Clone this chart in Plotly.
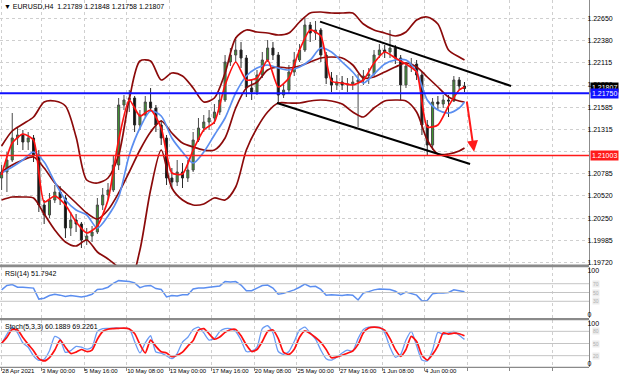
import plotly.graph_objects as go
from plotly.subplots import make_subplots

FONT = "Liberation Sans, Arial, sans-serif"

# ---------------- data ----------------
symbol_title = "\u25bc EURUSD,H4  1.21789 1.21848 1.21758 1.21807"
rsi_title = "RSI(14) 51.7942"
stoch_title = "Stoch(5,3,3) 60.1889 69.2261"

# candle positions in H4-bar units (0 = 3 May 00:00); each candle = 2 bars
candle_bars = list(range(-15, 160, 2))

opens = [1.20734, 1.20806, 1.20950, 1.21214, 1.21250, 1.21166, 1.21214, 1.21010, 1.20410, 1.20290,
         1.20470, 1.20566, 1.20494, 1.20134, 1.20230, 1.20182, 1.19990, 1.20038, 1.20086, 1.20410,
         1.20530, 1.20590, 1.20890, 1.21610, 1.21670, 1.21694, 1.21370, 1.21490, 1.21646, 1.21574,
         1.21370, 1.21214, 1.20734, 1.20686, 1.20806, 1.20734, 1.20830, 1.21190, 1.21334, 1.21406,
         1.21454, 1.21526, 1.21670, 1.22126, 1.22210, 1.22270, 1.22174, 1.21814, 1.21766, 1.21970,
         1.22150, 1.22294, 1.22210, 1.21730, 1.21790, 1.22006, 1.22150, 1.22270, 1.22570, 1.22474,
         1.22510, 1.22210, 1.21934, 1.21850, 1.21886, 1.21850, 1.21862, 1.21886, 1.21910, 1.21958,
         1.21982, 1.22210, 1.22270, 1.22246, 1.22294, 1.22174, 1.21850, 1.22078, 1.22102, 1.21970,
         1.21370, 1.21130, 1.21646, 1.21622, 1.21670, 1.21658, 1.21910, 1.21838]
highs = [1.20890, 1.21046, 1.21514, 1.21346, 1.21310, 1.21286, 1.21250, 1.21070, 1.20470, 1.20554,
         1.20650, 1.20638, 1.20530, 1.20326, 1.20302, 1.20206, 1.20134, 1.20158, 1.20494, 1.20614,
         1.20674, 1.21010, 1.21694, 1.21730, 1.21790, 1.21718, 1.21550, 1.21718, 1.21814, 1.21610,
         1.21430, 1.21250, 1.20854, 1.20950, 1.20914, 1.20950, 1.21286, 1.21454, 1.21490, 1.21550,
         1.21622, 1.21766, 1.22210, 1.22294, 1.22426, 1.22366, 1.22210, 1.21910, 1.22030, 1.22246,
         1.22390, 1.22366, 1.22246, 1.21862, 1.22090, 1.22246, 1.22342, 1.22654, 1.22606, 1.22618,
         1.22534, 1.22246, 1.22006, 1.21970, 1.21958, 1.21934, 1.21958, 1.21982, 1.22030, 1.22054,
         1.22270, 1.22342, 1.22330, 1.22510, 1.22330, 1.22210, 1.22126, 1.22174, 1.22150, 1.22006,
         1.21430, 1.21694, 1.21718, 1.21730, 1.21730, 1.21958, 1.21946, 1.21886]
lows = [1.20590, 1.20566, 1.20926, 1.21130, 1.21070, 1.21070, 1.20926, 1.20326, 1.20182, 1.20254,
        1.20434, 1.20410, 1.20014, 1.20038, 1.20086, 1.19894, 1.19930, 1.19966, 1.20062, 1.20350,
        1.20470, 1.20566, 1.20830, 1.21550, 1.21526, 1.21286, 1.21310, 1.21454, 1.21526, 1.21286,
        1.21130, 1.20650, 1.20614, 1.20638, 1.20614, 1.20686, 1.20806, 1.21166, 1.21286, 1.21310,
        1.21382, 1.21490, 1.21646, 1.22078, 1.22126, 1.22054, 1.21706, 1.21670, 1.21730, 1.21934,
        1.22126, 1.22150, 1.21622, 1.21694, 1.21754, 1.21958, 1.22126, 1.22246, 1.22366, 1.22390,
        1.22126, 1.21862, 1.21766, 1.21790, 1.21790, 1.21766, 1.21790, 1.21346, 1.21850, 1.21862,
        1.21958, 1.22174, 1.22174, 1.22174, 1.22102, 1.21670, 1.21814, 1.22006, 1.21910, 1.21250,
        1.21003, 1.21070, 1.21550, 1.21574, 1.21466, 1.21646, 1.21790, 1.21766]
closes = [1.20806, 1.20950, 1.21214, 1.21250, 1.21166, 1.21214, 1.21010, 1.20410, 1.20290, 1.20470,
          1.20566, 1.20494, 1.20134, 1.20230, 1.20182, 1.19990, 1.20038, 1.20086, 1.20410, 1.20530,
          1.20590, 1.20890, 1.21610, 1.21670, 1.21694, 1.21370, 1.21490, 1.21646, 1.21574, 1.21370,
          1.21214, 1.20734, 1.20686, 1.20806, 1.20734, 1.20830, 1.21190, 1.21334, 1.21406, 1.21454,
          1.21526, 1.21670, 1.22126, 1.22210, 1.22270, 1.22174, 1.21814, 1.21766, 1.21970, 1.22150,
          1.22294, 1.22210, 1.21730, 1.21790, 1.22006, 1.22150, 1.22270, 1.22570, 1.22474, 1.22510,
          1.22210, 1.21934, 1.21850, 1.21886, 1.21850, 1.21862, 1.21886, 1.21910, 1.21958, 1.21982,
          1.22210, 1.22270, 1.22246, 1.22294, 1.22174, 1.21850, 1.22078, 1.22102, 1.21970, 1.21370,
          1.21130, 1.21646, 1.21622, 1.21670, 1.21658, 1.21910, 1.21838, 1.21807]

# indicator lines sampled every 4 bars (plus last bar)
ind_bars = list(range(-15, 158, 4)) + [159]
bb_upper = [1.21118, 1.21298, 1.21382, 1.21466, 1.21646, 1.21658, 1.21598, 1.21226, 1.20710, 1.20674,
            1.20734, 1.21010, 1.21682, 1.22138, 1.22138, 1.21910, 1.21994, 1.21958, 1.21814, 1.21646,
            1.21694, 1.21994, 1.22414, 1.22510, 1.22486, 1.22474, 1.22450, 1.22474, 1.22606, 1.22714,
            1.22726, 1.22714, 1.22714, 1.22714, 1.22582, 1.22510, 1.22474, 1.22438, 1.22486, 1.22630,
            1.22666, 1.22582, 1.22270, 1.22186, 1.22150]
bb_middle = [1.20806, 1.20890, 1.20950, 1.20986, 1.20854, 1.20674, 1.20554, 1.20434, 1.20314, 1.20242,
             1.20350, 1.20554, 1.20806, 1.21070, 1.21286, 1.21418, 1.21274, 1.21154, 1.21106, 1.21070,
             1.21070, 1.21214, 1.21574, 1.21814, 1.21886, 1.22030, 1.22066, 1.22054, 1.22078, 1.22126,
             1.22174, 1.22186, 1.22174, 1.22090, 1.21934, 1.21946, 1.22006, 1.22066, 1.22114, 1.22066,
             1.21946, 1.21826, 1.21706, 1.21658, 1.21646]
bb_lower = [1.20470, 1.20506, 1.20506, 1.20494, 1.20302, 1.20110, 1.19966, 1.19918, 1.19990, 1.19846,
            1.19762, 1.19654, 1.19450, 1.19870, 1.20590, 1.21070, 1.20614, 1.20470, 1.20410, 1.20422,
            1.20494, 1.20470, 1.20626, 1.21070, 1.21334, 1.21526, 1.21634, 1.21634, 1.21634, 1.21658,
            1.21670, 1.21658, 1.21622, 1.21526, 1.21466, 1.21574, 1.21658, 1.21670, 1.21658, 1.21526,
            1.21190, 1.21022, 1.21022, 1.21058, 1.21094]
ma_blue = [1.20794, 1.20866, 1.20950, 1.21046, 1.20926, 1.20686, 1.20470, 1.20350, 1.20290, 1.20134,
           1.20278, 1.20506, 1.21010, 1.21334, 1.21538, 1.21478, 1.21214, 1.21046, 1.20914, 1.21046,
           1.21250, 1.21454, 1.21754, 1.21958, 1.22054, 1.22090, 1.22054, 1.22030, 1.22066, 1.22150,
           1.22294, 1.22246, 1.22126, 1.22006, 1.21874, 1.21982, 1.22102, 1.22150, 1.22150, 1.22006,
           1.21670, 1.21550, 1.21514, 1.21574, 1.21646]
ma_red = [1.20770, 1.21154, 1.21262, 1.21190, 1.20446, 1.20518, 1.20410, 1.20206, 1.20074, 1.20158,
          1.20470, 1.21190, 1.21670, 1.21478, 1.21550, 1.21334, 1.20794, 1.20782, 1.21070, 1.21310,
          1.21406, 1.21850, 1.22126, 1.21910, 1.21934, 1.22150, 1.21826, 1.21934, 1.22270, 1.22510,
          1.22438, 1.21898, 1.21874, 1.21850, 1.21910, 1.22114, 1.22246, 1.22174, 1.22102, 1.22006,
          1.21346, 1.21370, 1.21598, 1.21790, 1.21826]

rsi_values = [56, 66, 68, 62, 62, 61, 60, 35, 37, 43,
              46, 44, 41, 43, 41, 40, 42, 46, 57, 58,
              62, 71, 77, 76, 75, 72, 61, 65, 66, 59,
              57, 40, 43, 42, 45, 45, 58, 60, 60, 62,
              63, 65, 75, 74, 75, 67, 54, 54, 60, 66,
              67, 60, 46, 48, 52, 56, 62, 69, 63, 64,
              57, 44, 45, 44, 43, 45, 44, 33, 49, 52,
              56, 58, 57, 57, 53, 45, 51, 48, 44, 31,
              32, 47, 49, 49, 50, 56, 54, 51.7942]
stoch_main = [49.3, 72.6, 90.2, 76.1, 51.4, 40.8, 19.6, 8.3, 11.2, 32.3,
              67.7, 60.6, 28.1, 32.3, 42.9, 40.8, 35.9, 40.8, 79.7, 86.7,
              87.4, 88.1, 88.1, 87.4, 86.7, 54.9, 26.7, 51.4, 69.1, 28.8,
              26.0, 19.6, 12.6, 25.3, 53.5, 65.5, 84.6, 90.2, 76.1, 58.5,
              62.0, 79.7, 86.7, 86.7, 79.7, 58.5, 30.2, 31.6, 40.8, 86.7,
              93.8, 76.1, 30.2, 23.2, 30.2, 54.9, 83.2, 90.2, 76.1, 60.6,
              33.8, 12.6, 9.1, 16.1, 26.7, 33.8, 31.6, 62.0, 84.6, 90.2,
              90.2, 90.2, 76.1, 40.8, 16.1, 23.2, 58.5, 79.7, 44.4, 9.1,
              6.9, 33.8, 77.5, 72.6, 76.1, 79.7, 70.5, 60.1889]
stoch_signal = [50.7, 65.5, 84.6, 83.2, 64.8, 47.9, 32.3, 12.6, 6.9, 15.4,
                33.8, 58.5, 40.8, 25.3, 28.8, 35.2, 30.2, 33.8, 60.6, 79.7,
                85.3, 86.7, 87.4, 88.1, 86.0, 74.7, 47.9, 26.7, 58.5, 42.9,
                29.5, 26.7, 17.5, 21.1, 28.8, 43.6, 57.1, 83.2, 86.7, 74.0,
                60.6, 66.2, 77.5, 83.9, 84.6, 69.1, 46.5, 30.2, 35.2, 54.9,
                79.7, 83.2, 62.0, 28.1, 23.2, 35.9, 65.5, 81.1, 74.7, 64.8,
                52.8, 35.2, 14.7, 16.8, 21.1, 26.0, 31.6, 47.9, 76.8, 88.1,
                90.2, 88.8, 83.2, 62.0, 35.2, 18.2, 35.2, 67.7, 54.9, 21.1,
                9.1, 23.2, 44.4, 76.1, 73.3, 75.4, 74.0, 69.2261]

rsi_levels = [70, 50, 30]
stoch_levels = [80, 50, 20]

resistance_level = 1.21750
support_level = 1.21003
last_price = 1.21807

channel_upper_bars = [104.7, 176.5]
channel_upper_prices = [1.22610, 1.21838]
channel_lower_bars = [88.5, 161.1]
channel_lower_prices = [1.21634, 1.20902]

arrow_bars = [159.8, 162.6]
arrow_prices = [1.21670, 1.21050]

price_ticks = [1.19720, 1.19985, 1.20250, 1.20520, 1.20785, 1.21050,
               1.21315, 1.21585, 1.21850, 1.22115, 1.22380, 1.22650]
hidden_price_ticks = [1.21050]  # covered by the support-level price box
time_tick_bars = [-15, 0, 16, 32, 48, 64, 80, 96, 112, 128, 144, 160, 176, 192]
time_tick_labels = ["28 Apr 2021", "3 May 00:00", "5 May 16:00", "10 May 08:00", "13 May 00:00",
                    "17 May 16:00", "20 May 08:00", "25 May 00:00", "27 May 16:00", "1 Jun 08:00",
                    "4 Jun 00:00", "", "", ""]

# ---------------- figure ----------------
fig = make_subplots(rows=3, cols=1, shared_xaxes=True, vertical_spacing=0)

fig.add_trace(go.Candlestick(
    x=candle_bars, open=opens, high=highs, low=lows, close=closes,
    increasing=dict(line=dict(color="#4a4a4a", width=1), fillcolor="#3f9a30"),
    decreasing=dict(line=dict(color="#2a2a2a", width=1), fillcolor="#111111"),
    whiskerwidth=0, showlegend=False, hoverinfo="skip"), row=1, col=1)

band_style = dict(color="#8b0a0a", width=1.7, shape="spline", smoothing=0.8)
for series in (bb_upper, bb_middle, bb_lower):
    fig.add_trace(go.Scatter(x=ind_bars, y=series, mode="lines", line=band_style,
                             showlegend=False, hoverinfo="skip"), row=1, col=1)
fig.add_trace(go.Scatter(x=ind_bars, y=ma_blue, mode="lines",
                         line=dict(color="#5b8ef0", width=1.7, shape="spline", smoothing=0.8),
                         showlegend=False, hoverinfo="skip"), row=1, col=1)
fig.add_trace(go.Scatter(x=ind_bars, y=ma_red, mode="lines",
                         line=dict(color="#ff1010", width=1.7, shape="spline", smoothing=0.6),
                         showlegend=False, hoverinfo="skip"), row=1, col=1)

fig.add_hline(y=resistance_level, line=dict(color="#1010ff", width=2), row=1, col=1)
fig.add_hline(y=support_level, line=dict(color="#ff1a1a", width=1.5), row=1, col=1)

for bx, pyv in ((channel_upper_bars, channel_upper_prices), (channel_lower_bars, channel_lower_prices)):
    fig.add_trace(go.Scatter(x=bx, y=pyv, mode="lines", line=dict(color="#000000", width=2),
                             showlegend=False, hoverinfo="skip"), row=1, col=1)

fig.add_annotation(x=arrow_bars[1], y=arrow_prices[1], ax=arrow_bars[0], ay=arrow_prices[0],
                   xref="x", yref="y", axref="x", ayref="y", showarrow=True, text="",
                   arrowhead=2, arrowsize=1.1, arrowwidth=2, arrowcolor="#ff1a1a")

# RSI
fig.add_trace(go.Scatter(x=candle_bars, y=rsi_values, mode="lines",
                         line=dict(color="#5b8ef0", width=1.5),
                         showlegend=False, hoverinfo="skip"), row=2, col=1)
for lv in rsi_levels:
    fig.add_hline(y=lv, line=dict(color="#c4c4c4", width=1), row=2, col=1)

# Stochastic
fig.add_trace(go.Scatter(x=candle_bars, y=stoch_main, mode="lines",
                         line=dict(color="#6a9bf4", width=1.3, shape="spline", smoothing=0.6),
                         showlegend=False, hoverinfo="skip"), row=3, col=1)
fig.add_trace(go.Scatter(x=candle_bars, y=stoch_signal, mode="lines",
                         line=dict(color="#ff1010", width=1.7, shape="spline", smoothing=0.6),
                         showlegend=False, hoverinfo="skip"), row=3, col=1)
for lv in stoch_levels:
    fig.add_hline(y=lv, line=dict(color="#c4c4c4", width=1), row=3, col=1)

# ---------------- layout ----------------
H = 368.0
def py(px):
    return 1 - px / H

grid = dict(showgrid=True, gridcolor="#cfcfcf", griddash="dot", gridwidth=1)
fig.update_xaxes(range=[-15.6, 205.8], tickvals=time_tick_bars, ticktext=time_tick_labels,
                 zeroline=False, rangeslider_visible=False, showline=False, automargin=False,
                 tickangle=0, **grid)
fig.update_xaxes(showticklabels=True, ticklabelposition="outside right",
                 tickfont=dict(family=FONT, size=6, color="#000"), ticks="outside",
                 ticklen=3, tickcolor="#888", ticklabelstandoff=-2, row=3, col=1)

axis_common = dict(side="right", zeroline=False, showline=True, linecolor="#8c8c8c", linewidth=1,
                   ticks="", automargin=False, ticklabelstandoff=-4,
                   tickfont=dict(family=FONT, size=7, color="#000"))
fig.update_layout(
    yaxis=dict(domain=[py(265), 1], range=[1.1969, 1.2287], tickvals=price_ticks,
               ticktext=["" if v in hidden_price_ticks else f"{v:.5f}" for v in price_ticks],
               **grid, **axis_common),
    yaxis2=dict(domain=[py(318), py(267)], range=[-8, 108], tickvals=[0, 100],
                showgrid=False, **axis_common),
    yaxis3=dict(domain=[py(367), py(320)], range=[-8, 108], tickvals=[0, 100],
                showgrid=False, **axis_common),
)

shapes = []
for y0, y1 in ((264.5, 267.2), (318, 320.3), (366.8, 368)):
    shapes.append(dict(type="rect", xref="paper", yref="paper", x0=0, x1=1, y0=py(y1), y1=py(y0),
                       fillcolor="#8a8a8a", line=dict(width=0), layer="above"))
fig.update_layout(shapes=list(fig.layout.shapes) + shapes)

annos = [
    dict(text=symbol_title, xref="paper", yref="paper", x=0, y=1, xanchor="left", yanchor="top",
         xshift=2, yshift=-1, showarrow=False, font=dict(family=FONT, size=7, color="#000")),
    dict(text=rsi_title, xref="paper", yref="paper", x=0, y=py(267), xanchor="left", yanchor="top",
         xshift=3, yshift=-1, showarrow=False, font=dict(family=FONT, size=7, color="#000")),
    dict(text=stoch_title, xref="paper", yref="paper", x=0, y=py(320), xanchor="left", yanchor="top",
         xshift=3, yshift=-1, showarrow=False, font=dict(family=FONT, size=7, color="#000")),
]
for val, bg, ys in ((last_price, "#000000", 1), (resistance_level, "#1010ff", 0), (support_level, "#ff1a1a", 0)):
    annos.append(dict(text=f"{val:.5f}", xref="paper", yref="y", x=1, y=val, xanchor="left",
                      yanchor="middle", showarrow=False, bgcolor=bg, borderpad=1, xshift=1, yshift=ys,
                      font=dict(family=FONT, size=7, color="#ffffff")))
for lv in rsi_levels:
    annos.append(dict(text=str(lv), xref="paper", yref="y2", x=1, y=lv, xanchor="left", xshift=3,
                      showarrow=False, bgcolor="#ececec", borderpad=0,
                      font=dict(family=FONT, size=5, color="#b0b0b0")))
for lv in stoch_levels:
    annos.append(dict(text=str(lv), xref="paper", yref="y3", x=1, y=lv, xanchor="left", xshift=3,
                      showarrow=False, bgcolor="#ececec", borderpad=0,
                      font=dict(family=FONT, size=5, color="#b0b0b0")))
fig.update_layout(annotations=list(fig.layout.annotations) + annos)

fig.update_layout(width=620, height=381, margin=dict(l=0, r=31, t=0, b=13, autoexpand=False),
                  paper_bgcolor="#ffffff", plot_bgcolor="#ffffff", boxgap=0.45,
                  font=dict(family=FONT, size=7), showlegend=False)

# remove the browser's default 8px page margin so the figure sits at the window's corner
fig.write_html("out.html", config={"displayModeBar": False},
               post_script="document.body.style.margin='0';")
